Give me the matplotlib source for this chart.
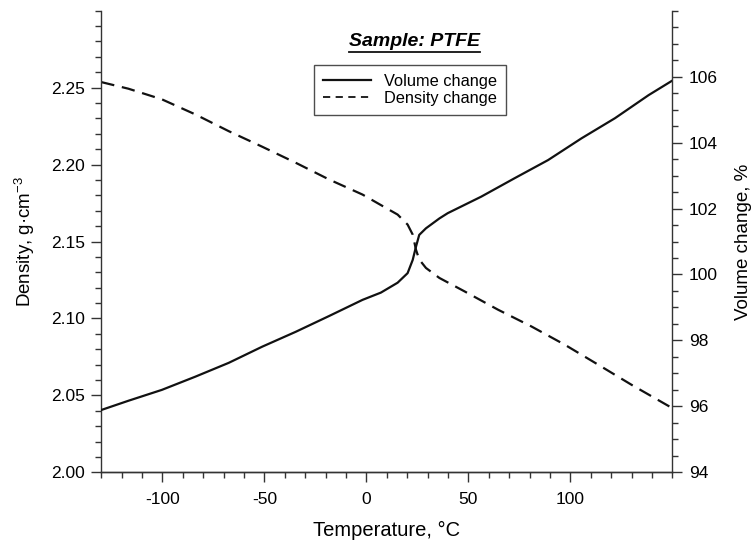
import matplotlib
matplotlib.use("Agg")
import matplotlib.pyplot as plt
from matplotlib.lines import Line2D
from matplotlib.ticker import MultipleLocator, FixedLocator

plt.rcParams['font.family'] = ['Liberation Sans', 'DejaVu Sans']
plt.rcParams['mathtext.fontset'] = 'custom'
plt.rcParams['mathtext.rm'] = 'Liberation Sans'
plt.rcParams['mathtext.it'] = 'Liberation Sans:italic'
plt.rcParams['axes.unicode_minus'] = False

# volume change, % (right axis)
t_vol = [-130, -116.7, -100.3, -83.9, -67.5, -51.1, -34.7, -18.3, -1.9, 7.1, 15.3,
         20.2, 22.7, 24.3, 25.9, 29.2, 35.8, 39.9, 56.3, 72.7, 89.1, 105.5, 121.9, 138.4, 150]
vol = [95.89, 96.17, 96.50, 96.90, 97.32, 97.81, 98.26, 98.74, 99.23, 99.45, 99.75,
       100.04, 100.44, 100.84, 101.20, 101.40, 101.70, 101.86, 102.36, 102.92, 103.47,
       104.13, 104.74, 105.44, 105.88]

# density, g/cm3 (left axis)
t_den = [-130, -116.7, -100.3, -83.9, -67.5, -51.1, -34.7, -18.3, -1.9, 8.0, 15.3,
         20.2, 22.7, 24.3, 25.9, 29.2, 35.8, 48.1, 64.5, 80.9, 97.3, 113.7, 130.1, 150]
den = [2.2536, 2.2493, 2.2424, 2.2326, 2.2217, 2.2116, 2.2012, 2.1903, 2.1805, 2.1730,
       2.1675, 2.1610, 2.1545, 2.1447, 2.1383, 2.1328, 2.1263, 2.1176, 2.1057, 2.0948,
       2.0829, 2.0699, 2.0568, 2.0417]

x_ticks = [-100, -50, 0, 50, 100]
den_ticks = [2.00, 2.05, 2.10, 2.15, 2.20, 2.25]
vol_ticks = [94, 96, 98, 100, 102, 104, 106]

fig = plt.figure(figsize=(7.53, 5.41), dpi=100)
ax = fig.add_axes([101.3/753, (541-472.3)/541, 571/753, 461.6/541])
ax2 = ax.twinx()

ax.plot(t_den, den, color='#111111', lw=1.6, ls=(0, (6, 3.5)))
ax2.plot(t_vol, vol, color='#111111', lw=1.6)

ax.set_xlim(-130, 150)
ax.set_ylim(2.00, 2.30)
ax2.set_ylim(94, 108)

ax.xaxis.set_major_locator(FixedLocator(x_ticks))
ax.xaxis.set_minor_locator(MultipleLocator(10))
ax.yaxis.set_major_locator(FixedLocator(den_ticks))
ax.yaxis.set_minor_locator(MultipleLocator(0.01))
ax.yaxis.set_major_formatter(plt.FormatStrFormatter('%.2f'))
ax2.yaxis.set_major_locator(FixedLocator(vol_ticks))
ax2.yaxis.set_minor_locator(MultipleLocator(0.5))

for a in (ax, ax2):
    a.spines['top'].set_visible(False)
    for s in a.spines.values():
        s.set_linewidth(1.0)
        s.set_color('#333333')
    a.tick_params(which='major', direction='out', length=7, width=1.0, color='#333333',
                  labelsize=12.5, pad=5)
    a.tick_params(which='minor', direction='out', length=4.5, width=1.0, color='#333333')
ax.spines['right'].set_visible(False)
ax2.spines['left'].set_visible(False)
ax.tick_params(axis='x', pad=7)

ax.set_xlabel('Temperature, °C', fontsize=14.5, labelpad=10)
ax.set_ylabel('Density, g·cm$^{-3}$', fontsize=13.5, labelpad=10)
ax2.set_ylabel('Volume change, %', fontsize=13.5, labelpad=12)

handles = [Line2D([], [], color='#111111', lw=1.6),
           Line2D([], [], color='#111111', lw=1.3, ls=(0, (4, 3)))]
leg = ax2.legend(handles, ['Volume change', 'Density change'], loc='upper left',
                 bbox_to_anchor=(0.3725, 0.883), fontsize=11.8, frameon=True,
                 fancybox=False, edgecolor='#222222', handlelength=2.9,
                 handletextpad=0.8, borderpad=0.55, labelspacing=0.12,
                 borderaxespad=0)
leg.get_frame().set_linewidth(1.0)

title = ax.text(0.549, 0.933, 'Sample: PTFE', transform=ax.transAxes, ha='center',
                va='center', fontsize=14, fontweight='bold', fontstyle='italic')
fig.canvas.draw()
bb = title.get_window_extent().transformed(fig.transFigure.inverted())
fig.add_artist(Line2D([bb.x0, bb.x1], [bb.y0 - 0.003, bb.y0 - 0.003],
                      color='#111111', lw=1.3, transform=fig.transFigure))

fig.savefig('out.png', dpi=100)
